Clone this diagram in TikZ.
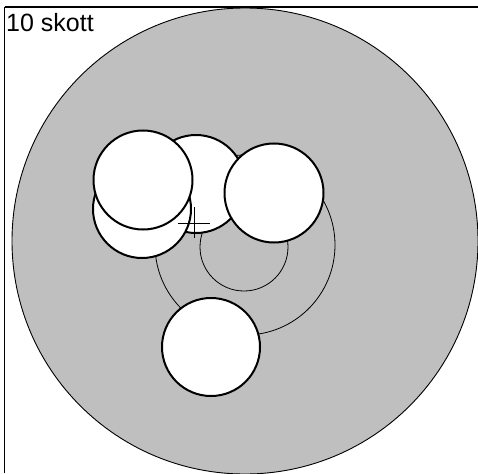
\documentclass[tikz,border=0pt]{standalone}
\usepackage{fontspec}
\setmainfont{Liberation Sans}
\begin{document}
\begin{tikzpicture}[x=1pt,y=-1pt,
  hole/.style={draw=black,fill=white,line width=2pt},
  ring/.style={draw=black,line width=0.8pt}]
\useasboundingbox (0,0) rectangle (478,473);
\fill[white] (0,0) rectangle (478,473);
% target
\filldraw[fill=black!25,draw=black,line width=0.9pt] (245,241) circle[radius=233];
\draw[ring] (245,245) circle[radius=90];
\draw[ring] (244,247) circle[radius=44];
% shot holes
\draw[hole] (196,184) circle[radius=49];
\draw[hole] (142,209) circle[radius=49];
\draw[hole] (143,180) circle[radius=49.5];
\draw[hole] (274,193) circle[radius=49.5];
\draw[hole] (211,347) circle[radius=49];
% crosshair
\coordinate (c) at (194,223);
\draw[line width=0.8pt] ([xshift=-16pt]c) -- ([xshift=16pt]c);
\draw[line width=0.8pt] ([yshift=-15pt]c) -- ([yshift=16pt]c);
% frame
\coordinate (tl) at (4.7,7);
\draw[line width=1.3pt] (tl) -- (478,7);
\draw[line width=1.3pt] (tl) -- (4.7,473);
\node[anchor=base west,inner sep=0pt,font=\fontsize{25pt}{28pt}\selectfont] (lbl) at (6,31.5) {10 skott};
\end{tikzpicture}
\end{document}
